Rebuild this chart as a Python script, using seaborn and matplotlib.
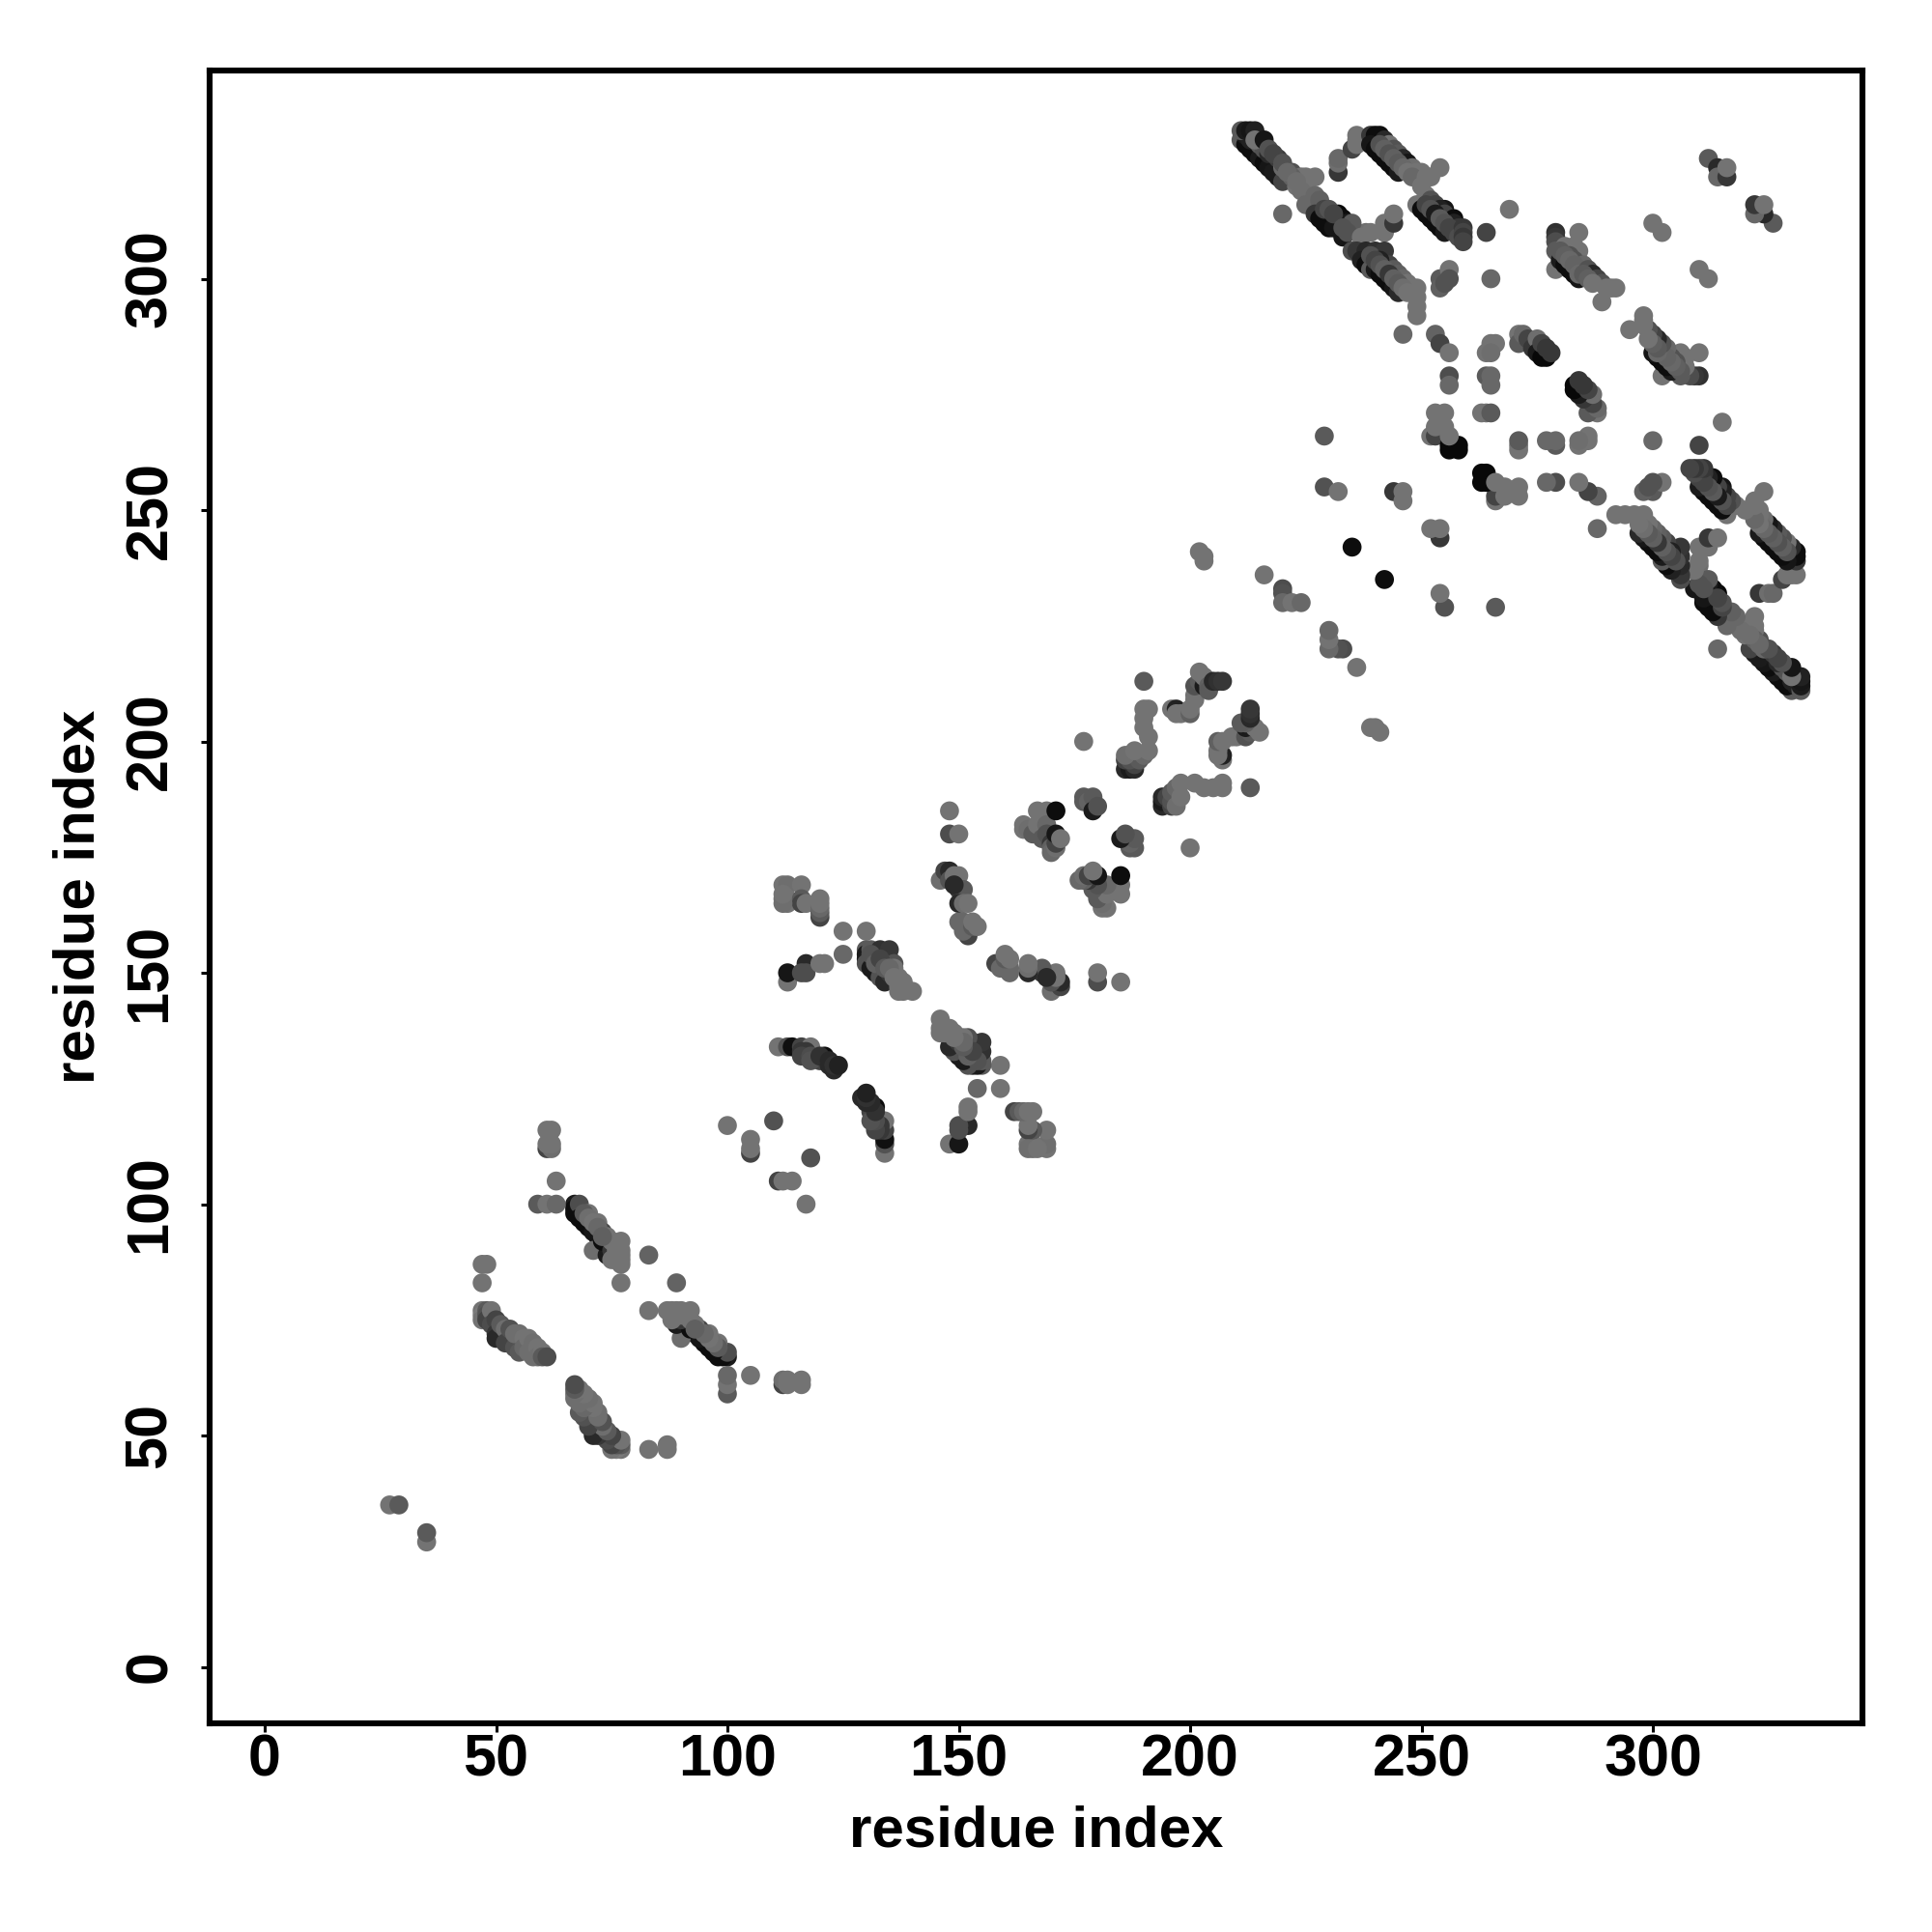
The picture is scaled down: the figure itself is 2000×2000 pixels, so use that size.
import pandas as pd
import seaborn as sns
import matplotlib
matplotlib.use("Agg")
import matplotlib.pyplot as plt

# Contacts are (residue i, residue j, grey level), i < j; the map is symmetric
far_low = [(27, 35, .42), (29, 35, .33)]

strand_a = [(47, 77, .42), (47, 76, .45), (47, 75, .42), (48, 77, .33), (48, 76, .3), (48, 75, .25),
            (49, 77, .42), (49, 74, .28), (50, 75, .25), (50, 72, .2), (50, 71, .15), (51, 74, .33),
            (52, 73, .4), (52, 70, .25), (53, 73, .3), (54, 69, .3), (54, 72, .4), (55, 72, .4),
            (55, 68, .33), (56, 71, .42), (56, 69, .38), (57, 71, .42), (57, 68, .4), (58, 70, .4),
            (58, 67, .4), (59, 69, .42), (59, 67, .4), (60, 68, .42), (60, 67, .33), (61, 67, .28)]

strand_b = [(67, 100, .1), (67, 99, .05), (67, 98, .05), (68, 100, .28), (68, 97, .05), (69, 96, .05),
            (70, 95, .05), (71, 94, .08), (70, 98, .42), (72, 96, .42), (72, 93, .08), (73, 94, .25),
            (71, 90, .4), (74, 89, .1), (73, 92, .05), (75, 90, .2), (74, 93, .42), (75, 92, .42),
            (75, 88, .42), (76, 91, .42), (76, 90, .42), (77, 92, .42), (77, 90, .42), (77, 89, .42),
            (77, 88, .42), (77, 87, .42),
            (69, 98, .33), (70, 97, .4), (71, 96, .42), (72, 95, .38), (73, 93, .35)]

low_singles = [(77, 83, .42), (83, 89, .36), (47, 83, .42), (47, 87, .42), (48, 87, .42),
               (59, 100, .33), (61, 100, .42), (63, 100, .38), (63, 105, .42),
               (61, 112, .25), (62, 112, .4), (61, 113, .42), (62, 113, .42), (61, 116, .42), (62, 116, .42),
               (100, 117, .42), (110, 118, .3), (105, 111, .25), (105, 112, .42), (105, 114, .42)]

strand_c = [(111, 134, .42), (113, 134, .3), (114, 134, .06), (116, 134, .25), (118, 134, .42),
            (116, 133, .2), (117, 133, .2), (116, 132, .25), (118, 132, .28), (120, 131, .25),
            (118, 131, .3), (121, 132, .05), (120, 132, .18), (122, 131, .15), (123, 129, .15),
            (122, 130, .15), (123, 130, .18), (124, 130, .12)]

cluster_d = [(112, 169, .42), (113, 169, .4), (116, 169, .42), (112, 166, .4), (113, 166, .42),
             (113, 165, .42), (116, 166, .33), (116, 165, .25), (117, 165, .42), (120, 162, .25),
             (120, 163, .33), (120, 164, .38), (120, 165, .42), (120, 166, .42),
             (112, 165, .4), (112, 167, .42), (125, 159, .42), (130, 159, .42), (125, 154, .38),
             (113, 148, .42), (113, 150, .08), (117, 152, .15), (116, 150, .28), (117, 150, .28),
             (120, 152, .42), (121, 152, .42)]

strand_e = [(130, 155, .33), (130, 154, .1), (130, 153, .1), (130, 152, .3), (131, 151, .1),
            (131, 155, .33), (132, 150, .1), (132, 153, .3), (133, 149, .3), (133, 155, .18),
            (134, 148, .15), (134, 152, .1), (135, 153, .12), (135, 150, .2), (135, 155, .2),
            (136, 152, .3), (136, 151, .42), (137, 149, .42), (137, 147, .42), (137, 146, .42),
            (138, 148, .42), (138, 146, .42), (140, 146, .42),
            (131, 154, .3), (132, 152, .35), (133, 153, .25), (134, 151, .33), (135, 151, .38), (136, 149, .42)]

strand_f = [(146, 170, .4), (147, 172, .25), (148, 172, .15), (148, 170, .3), (149, 171, .42),
            (150, 171, .42), (150, 168, .2), (151, 168, .33), (149, 169, .15), (150, 165, .15),
            (151, 165, .4), (152, 165, .42), (150, 161, .38), (151, 161, .38), (152, 159, .3),
            (152, 158, .25), (151, 159, .38), (153, 160, .33), (153, 161, .42), (154, 160, .42)]

cluster_h = [(148, 180, .28), (150, 180, .42), (148, 185, .42),
             (164, 182, .42), (164, 181, .42), (165, 181, .4), (166, 180, .33), (167, 182, .42),
             (168, 179, .33), (167, 185, .42), (169, 185, .42), (169, 182, .38), (169, 180, .3),
             (170, 178, .2), (170, 177, .35), (170, 176, .38), (171, 177, .4), (171, 178, .25),
             (171, 180, .08), (171, 185, .05), (172, 179, .42),
             (177, 187, .33), (177, 188, .33), (178, 187, .36), (179, 188, .33), (179, 185, .1), (180, 186, .3),
             (177, 200, .42)]

cluster_j = [(190, 213, .33), (190, 207, .42), (191, 207, .42), (190, 205, .42), (190, 203, .42),
             (191, 201, .42), (186, 194, .15), (187, 194, .1), (188, 194, .15), (186, 196, .25),
             (188, 195, .25), (187, 196, .3), (189, 196, .33), (186, 197, .4), (190, 197, .38),
             (188, 198, .42), (191, 198, .42),
             (196, 207, .42), (197, 207, .12), (197, 206, .42), (198, 206, .42), (200, 206, .35), (200, 207, .42),
             (201, 209, .42), (201, 210, .42), (201, 212, .3), (202, 213, .33), (202, 215, .42), (203, 212, .1),
             (203, 214, .42), (204, 212, .35), (204, 211, .33), (205, 213, .15), (206, 213, .18), (207, 213, .2)]

mid_singles = [(216, 236, .42), (220, 233, .28), (220, 232, .3), (220, 230, .38), (222, 230, .42), (224, 230, .38),
               (203, 239, .42), (203, 240, .42), (202, 241, .42), (229, 266, .33), (229, 255, .3), (232, 254, .42),
               (235, 242, .05), (244, 254, .2), (246, 254, .42), (246, 252, .42)]

strand_s1 = [(211, 330, .33), (212, 329, .05), (213, 328, .05), (214, 327, .05), (215, 326, .1), (216, 325, .05),
             (217, 324, .08), (218, 323, .1), (219, 322, .1), (220, 321, .25),
             (212, 331, .1), (213, 330, .12), (215, 329, .33), (216, 328, .3), (217, 327, .15),
             (211, 332, .33), (212, 332, .1), (213, 332, .08), (214, 332, .12), (214, 330, .42), (216, 330, .08),
             (217, 328, .3), (219, 326, .22), (220, 324, .38), (222, 323, .3), (224, 322, .42), (225, 322, .42),
             (227, 322, .42), (223, 320, .42), (225, 320, .42), (224, 319, .4), (220, 314, .38),
             (218, 327, .25), (220, 325, .3), (222, 322, .35), (221, 323, .38), (223, 321, .4)]

strand_s1b = [(225, 316, .38), (227, 318, .38), (228, 317, .35), (227, 314, .2), (228, 313, .05), (229, 313, .05),
              (229, 312, .05), (230, 311, .05), (231, 311, .08), (229, 315, .25), (233, 309, .08),
              (232, 314, .03), (233, 313, .05), (234, 312, .1), (235, 311, .12), (236, 310, .42),
              (238, 310, .4), (239, 310, .42), (242, 310, .42), (242, 312, .42), (244, 312, .2), (244, 314, .42),
              (230, 315, .3), (231, 314, .25), (235, 312, .33), (234, 310, .3), (233, 311, .3), (237, 309, .42)]

strand_s1c = [(235, 306, .28), (236, 306, .2), (238, 306, .15), (240, 306, .18), (242, 306, .2), (237, 304, .12),
              (238, 303, .05), (239, 302, .33), (240, 302, .1), (241, 301, .05), (242, 300, .05), (243, 299, .05),
              (244, 298, .08), (245, 297, .15), (243, 303, .25), (244, 302, .33), (245, 301, .35), (246, 300, .38),
              (247, 299, .42), (248, 298, .42), (249, 298, .42), (249, 296, .42), (249, 294, .42), (249, 292, .42),
              (239, 305, .3), (241, 304, .12), (240, 304, .25), (241, 303, .3), (242, 302, .35), (243, 301, .2),
              (244, 300, .35), (245, 299, .33), (246, 298, .4), (247, 297, .42)]

strand_s2 = [(232, 323, .2), (232, 325, .4), (232, 326, .38), (235, 328, .25), (236, 329, .42), (236, 331, .42),
             (236, 330, .42), (239, 331, .2), (240, 331, .05), (241, 331, .05), (239, 329, .08), (240, 328, .05),
             (241, 327, .05), (242, 326, .05), (243, 325, .05), (244, 324, .05), (245, 323, .1), (242, 330, .15),
             (243, 329, .42), (244, 328, .3), (245, 327, .33), (246, 326, .15), (247, 325, .08), (248, 324, .4),
             (241, 329, .3), (242, 328, .35), (243, 327, .3), (244, 326, .35), (245, 325, .33), (246, 324, .38),
             (247, 323, .42),
             (249, 323, .42), (250, 323, .42), (250, 321, .42), (248, 322, .38), (251, 322, .42), (252, 322, .42),
             (254, 324, .42), (250, 320, .42), (251, 318, .42), (249, 316, .42), (250, 315, .05), (251, 314, .05),
             (252, 313, .05), (253, 312, .05), (254, 311, .05), (255, 310, .1), (252, 317, .3), (253, 316, .25),
             (255, 315, .08), (254, 315, .12), (255, 314, .25), (257, 313, .05), (257, 312, .12), (258, 311, .2),
             (251, 316, .25), (252, 315, .3), (253, 314, .1), (254, 313, .33), (255, 312, .3), (256, 311, .25),
             (257, 310, .25), (258, 309, .28),
             (259, 311, .2), (259, 310, .25), (259, 309, .2), (259, 308, .25)]

top_block = [(246, 288, .38), (253, 288, .36), (254, 286, .25), (256, 284, .42), (256, 279, .28), (256, 277, .38),
             (264, 279, .33), (265, 279, .38), (265, 277, .38), (264, 284, .42), (265, 286, .42), (266, 286, .42),
             (265, 284, .4), (254, 300, .33), (254, 298, .35), (256, 302, .42), (256, 300, .3), (255, 299, .3),
             (264, 310, .25), (269, 315, .42), (265, 300, .38), (300, 312, .42), (302, 310, .42),
             (312, 326, .33), (314, 324, .15), (314, 322, .38), (316, 322, .2), (316, 324, .42)]

strand_k = [(271, 288, .42), (271, 286, .33), (272, 288, .38), (273, 287, .25), (274, 285, .2), (275, 287, .4),
            (275, 284, .1), (276, 283, .03), (276, 286, .25), (277, 283, .03), (277, 285, .2), (278, 284, .2)]

cluster_m = [(252, 266, .42), (253, 266, .25), (253, 268, .42), (255, 268, .42), (253, 271, .42), (255, 271, .42),
             (254, 269, .42), (256, 263, .03), (256, 264, .03), (258, 263, .03), (258, 264, .03), (256, 266, .42),
             (263, 271, .42), (264, 271, .42), (265, 271, .33)]

strand_s3 = [(279, 310, .18), (279, 309, .2), (279, 308, .28), (279, 306, .33), (279, 302, .42), (284, 310, .42),
             (280, 304, .1), (281, 303, .05), (282, 302, .05), (283, 301, .05), (284, 300, .08), (281, 307, .42),
             (283, 307, .42), (284, 306, .42), (282, 305, .3), (283, 304, .3), (284, 302, .38), (285, 303, .38),
             (280, 306, .33), (281, 305, .35), (282, 304, .38), (283, 303, .36), (284, 301, .38),
             (286, 302, .3), (287, 301, .15), (288, 300, .25), (289, 299, .3), (289, 295, .42), (290, 298, .42),
             (291, 298, .42), (292, 298, .42), (285, 301, .33), (286, 300, .35), (287, 299, .42)]

contact_groups = [far_low, strand_a, strand_b, low_singles, strand_c, cluster_d, strand_e, strand_f, cluster_h,
                  cluster_j, mid_singles, strand_s1, strand_s1b, strand_s1c, strand_s2, top_block, strand_k,
                  cluster_m, strand_s3]

axis_ticks = [0, 50, 100, 150, 200, 250, 300]
axis_label = "residue index"

rows = [c for group in contact_groups for c in group]
upper = pd.DataFrame(rows, columns=["x", "y", "shade"])
lower = upper.rename(columns={"x": "y", "y": "x"})
contacts = pd.concat([upper, lower], ignore_index=True)

sns.set_style("white")
plt.rcParams["font.family"] = ["Liberation Sans", "DejaVu Sans"]
plt.rcParams["font.weight"] = "bold"
plt.rcParams["text.color"] = "black"
plt.rcParams["axes.labelcolor"] = "black"

fig = plt.figure(figsize=(10, 10), dpi=200)
ax = fig.add_axes([217 / 2000, 1 - 1784 / 2000, 1711 / 2000, 1711 / 2000])

sns.scatterplot(data=contacts, x="x", y="y", hue="shade", palette="gray", hue_norm=(0, 0.93),
                s=50, linewidth=0, legend=False, ax=ax)

ax.set_xlim(-11.9, 345.3)
ax.set_ylim(-12.2, 345.0)
ax.set_xticks(axis_ticks)
ax.set_yticks(axis_ticks)
ax.tick_params(axis="both", direction="out", length=3.2, width=1.1, color="black", labelcolor="black",
               left=True, bottom=True, labelsize=22)
ax.tick_params(axis="x", pad=0.6)
ax.tick_params(axis="y", pad=8.3)
plt.setp(ax.get_yticklabels(), rotation=90, va="center")
ax.set_xlabel(axis_label, fontsize=21.6, fontweight="bold", labelpad=6)
ax.set_ylabel(axis_label, fontsize=21.6, fontweight="bold", labelpad=6.6)
for spine in ax.spines.values():
    spine.set_visible(True)
    spine.set_color("black")
    spine.set_linewidth(2.2)

fig.savefig("out.png", dpi=200)
